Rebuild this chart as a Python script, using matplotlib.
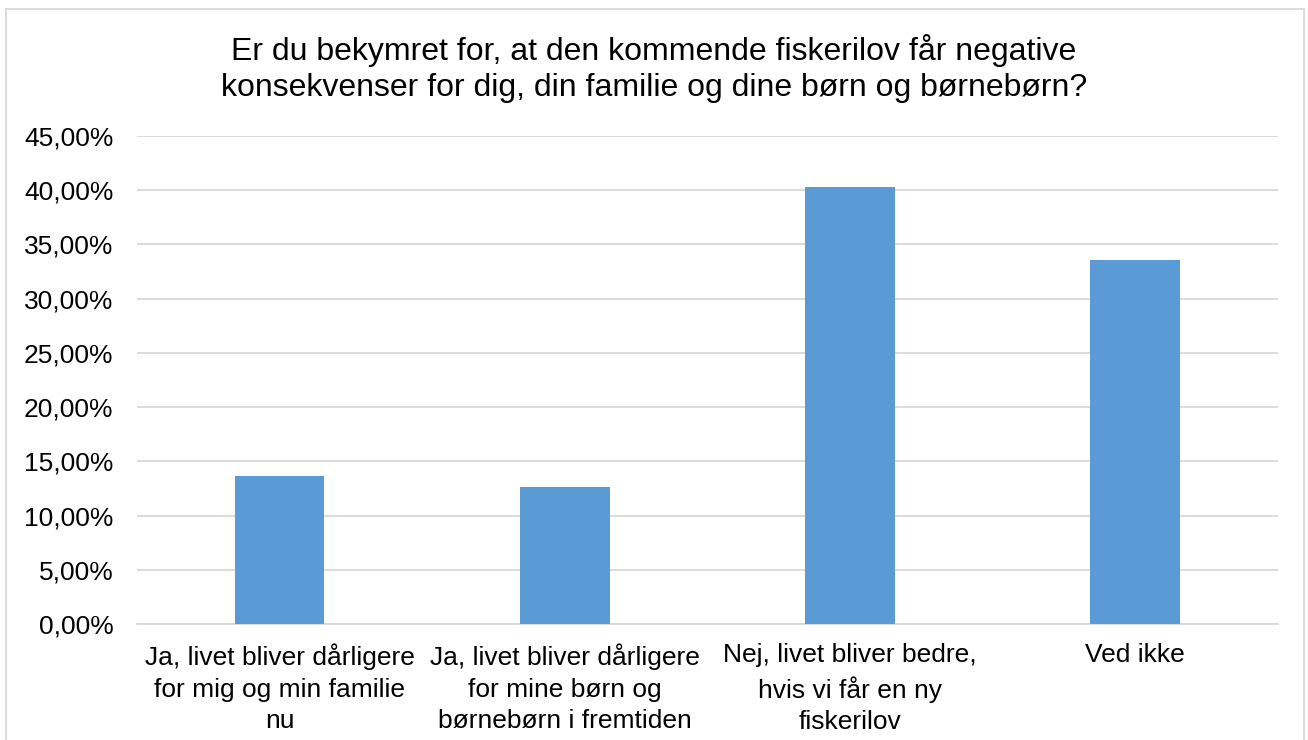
import matplotlib.pyplot as plt
from matplotlib.patches import Rectangle
from matplotlib.ticker import FuncFormatter

plt.rcParams['font.family'] = ['Liberation Sans', 'DejaVu Sans']

# Svarmuligheder og andele
kategorier = ['Ja, livet bliver dårligere\nfor mig og min familie\nnu',
              'Ja, livet bliver dårligere\nfor mine børn og\nbørnebørn i fremtiden',
              'Nej, livet bliver bedre,\nhvis vi får en ny\nfiskerilov',
              'Ved ikke']
andele = [0.1365, 0.1264, 0.4031, 0.3358]
y_ticks = [0, 0.05, 0.10, 0.15, 0.20, 0.25, 0.30, 0.35, 0.40, 0.45]

fig = plt.figure(figsize=(13.08, 7.4), dpi=100)
ax = fig.add_axes([0.1047, 0.1568, 0.8723, 0.6594])

ax.bar(range(len(kategorier)), andele, width=0.315, color='#5B9BD5', zorder=3)

ax.set_ylim(0, 0.45)
ax.set_xlim(-0.5, len(kategorier) - 0.5)
ax.set_yticks(y_ticks)
ax.yaxis.set_major_formatter(FuncFormatter(lambda v, p: f'{v * 100:.2f}%'.replace('.', ',')))
ax.grid(axis='y', color='#D9D9D9', linewidth=1.3, zorder=0)
ax.set_xticks(range(len(kategorier)))
ax.set_xticklabels(kategorier, fontsize=19, linespacing=1.4)
ax.tick_params(axis='y', labelsize=19, length=0, pad=17)
ax.tick_params(axis='x', length=0, pad=14)
for s in ['top', 'right', 'left']:
    ax.spines[s].set_visible(False)
ax.spines['bottom'].set_color('#D9D9D9')
ax.spines['bottom'].set_linewidth(1.3)

fig.text(0.5, 0.908, 'Er du bekymret for, at den kommende fiskerilov får negative\n'
         'konsekvenser for dig, din familie og dine børn og børnebørn?',
         ha='center', va='center', fontsize=23, linespacing=1.26)

# ramme om diagrammet
fig.patches.append(Rectangle((6 / 1308, -0.05), 1298 / 1308, 1.05 - 9 / 740,
                             transform=fig.transFigure, fill=False,
                             edgecolor='#D9D9D9', linewidth=1.3))

fig.savefig('out.png', dpi=100)
